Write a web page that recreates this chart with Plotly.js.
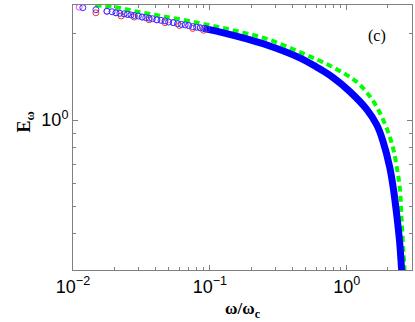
<!DOCTYPE html>
<html>
<head>
<meta charset="utf-8">
<script src="https://cdn.plot.ly/plotly-3.0.1.min.js"></script>
<style>
  body { margin: 0; background: #fff; }
  #plot { width: 415px; height: 322px; }
</style>
</head>
<body>
<div id="plot"></div>
<script>
// blue circles (low frequency, sparse)
var blueCircX = [0.0118, 0.0147, 0.0177, 0.0193, 0.0206, 0.022, 0.0236, 0.025, 0.0265, 0.028, 0.030, 0.032, 0.034, 0.036, 0.038, 0.041, 0.044, 0.047, 0.050, 0.054, 0.058, 0.062, 0.066, 0.070, 0.075, 0.080, 0.085, 0.090, 0.095];
var blueCircY = [2.47, 2.43, 2.40, 2.39, 2.37, 2.36, 2.35, 2.34, 2.33, 2.32, 2.31, 2.29, 2.28, 2.27, 2.26, 2.24, 2.23, 2.22, 2.20, 2.19, 2.17, 2.16, 2.15, 2.14, 2.12, 2.11, 2.10, 2.09, 2.08];

var redCircX = [0.0147, 0.0225, 0.028, 0.036, 0.047, 0.060, 0.075, 0.090];
var redCircY = [2.37, 2.31, 2.29, 2.24, 2.19, 2.14, 2.09, 2.06];

var magCircX = [0.0111, 0.0177, 0.0206, 0.025, 0.032, 0.041, 0.054, 0.070, 0.085];
var magCircY = [2.48, 2.40, 2.37, 2.34, 2.29, 2.24, 2.19, 2.14, 2.10];

// dense part, drawn as thick line
var blueX = [0.09, 0.13, 0.18, 0.261, 0.454, 0.604, 0.791, 1.05, 1.40, 1.66, 1.83, 2.06, 2.20, 2.32, 2.44, 2.52, 2.55];
var blueY = [2.09, 2.01, 1.93, 1.83, 1.65, 1.53, 1.41, 1.26, 1.09, 0.961, 0.851, 0.685, 0.569, 0.466, 0.371, 0.299, 0.28];

// green dashed
var greenX = [0.0145, 0.0206, 0.0283, 0.0446, 0.0845, 0.147, 0.261, 0.477, 0.791, 1.18, 1.55, 1.89, 2.17, 2.32, 2.44, 2.52, 2.60, 2.66];
var greenY = [2.52, 2.48, 2.40, 2.31, 2.18, 2.06, 1.92, 1.71, 1.53, 1.36, 1.17, 0.976, 0.805, 0.685, 0.583, 0.447, 0.343, 0.29];

var circ = function (x, y, c) {
  return { x: x, y: y, mode: 'markers', type: 'scatter', showlegend: false,
    marker: { symbol: 'circle-open', size: 6, color: c, line: { width: 1, color: c } } };
};

var data = [
  { x: greenX, y: greenY, mode: 'lines', type: 'scatter', showlegend: false,
    line: { color: '#00ff00', width: 4, dash: '6px,4px', shape: 'spline' } },
  { x: blueX, y: blueY, mode: 'lines', type: 'scatter', showlegend: false,
    line: { color: '#0000ff', width: 7, shape: 'spline' } },
  circ(redCircX, redCircY, '#ff3030'),
  circ(magCircX, magCircY, '#ff40ff'),
  circ(blueCircX, blueCircY, '#3030ff')
];

var serif = 'Liberation Serif, Times New Roman, serif';

var axisCommon = {
  type: 'log', showgrid: false, zeroline: false,
  showline: true, mirror: 'ticks', linecolor: '#808080', linewidth: 1,
  ticks: 'inside', ticklen: 5, tickcolor: '#808080',
  minor: { ticks: 'inside', ticklen: 3, tickcolor: '#808080', dtick: 'D1', showgrid: false },
  tickfont: { family: 'Liberation Sans, Arial, sans-serif', size: 18, color: '#000' }
};

var layout = {
  width: 415, height: 322,
  margin: { l: 73, r: 3, t: 5, b: 52 },
  paper_bgcolor: '#fff', plot_bgcolor: '#fff',
  xaxis: Object.assign({}, axisCommon, {
    range: [-2, 0.477],
    tickvals: [0.01, 0.1, 1],
    ticktext: ['10<sup>\u22122</sup>', '10<sup>\u22121</sup>', '10<sup>0</sup>'],
    title: { text: '<b>\u03c9/\u03c9<sub>c</sub></b>', standoff: 6,
      font: { family: serif, size: 17, color: '#000' } }
  }),
  yaxis: Object.assign({}, axisCommon, {
    range: [-0.524, 0.402],
    tickvals: [1],
    ticktext: ['10<sup>0</sup>']
  }),
  annotations: [
    { xref: 'paper', yref: 'paper', x: 0.929, y: 0.925, showarrow: false,
      text: '(c)', font: { family: serif, size: 16, color: '#000' } },
    { xref: 'paper', yref: 'paper', x: -0.18, y: 0.558, showarrow: false, textangle: -90,
      text: '<b>E<sub>\u03c9</sub></b>', font: { family: serif, size: 18, color: '#000' } }
  ]
};

Plotly.newPlot('plot', data, layout, { displayModeBar: false, staticPlot: true });
</script>
</body>
</html>
